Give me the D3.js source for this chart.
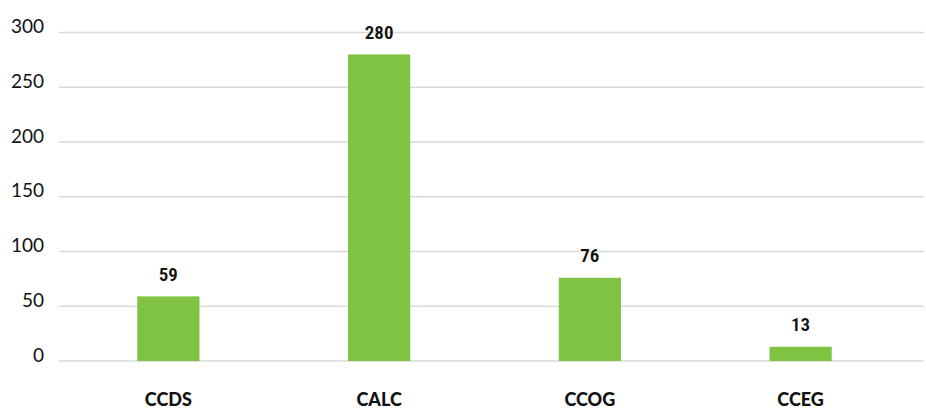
<!DOCTYPE html>
<html>
<head>
<meta charset="utf-8">
<script src="https://cdn.jsdelivr.net/npm/d3@7"></script>
<style>
  html, body { margin: 0; padding: 0; background: #fff; }
  svg { display: block; }
</style>
</head>
<body>
<svg id="chart" width="926" height="412"></svg>
<script>
// Programme counts
const categories = ["CCDS", "CALC", "CCOG", "CCEG"];
const values = [59, 280, 76, 13];
const yTicks = [0, 50, 100, 150, 200, 250, 300];

const svg = d3.select("#chart");

const x = d3.scaleBand()
  .domain(categories)
  .range([63, 906])
  .paddingInner(0.705)
  .paddingOuter(0.3525);

const y = d3.scaleLinear()
  .domain([0, 300])
  .range([361, 32.5]);

// horizontal gridlines
svg.append("g")
  .selectAll("line")
  .data(yTicks)
  .join("line")
  .attr("x1", 59)
  .attr("x2", 924)
  .attr("y1", d => y(d))
  .attr("y2", d => y(d))
  .attr("stroke", "#d9d9d9")
  .attr("stroke-width", 1.5);

// y-axis labels
svg.append("g")
  .selectAll("text")
  .data(yTicks)
  .join("text")
  .attr("x", 44)
  .attr("y", d => y(d) - 6)
  .attr("dy", "0.35em")
  .attr("text-anchor", "end")
  .attr("font-family", "Lato, 'Open Sans', sans-serif")
  .attr("font-size", 19)
  .attr("fill", "#111")
  .text(d => d);

// bars
svg.append("g")
  .selectAll("rect")
  .data(values)
  .join("rect")
  .attr("x", (d, i) => x(categories[i]))
  .attr("width", x.bandwidth())
  .attr("y", d => y(d))
  .attr("height", d => y(0) - y(d))
  .attr("fill", "#80c342");

// value labels
svg.append("g")
  .selectAll("text")
  .data(values)
  .join("text")
  .attr("x", (d, i) => x(categories[i]) + x.bandwidth() / 2)
  .attr("y", d => y(d) - 22)
  .attr("dy", "0.35em")
  .attr("text-anchor", "middle")
  .attr("font-family", "'Liberation Sans Narrow', 'Roboto Condensed', sans-serif")
  .attr("font-size", 19)
  .attr("font-weight", 600)
  .attr("fill", "#111")
  .text(d => d);

// category labels
svg.append("g")
  .selectAll("text")
  .data(categories)
  .join("text")
  .attr("x", d => x(d) + x.bandwidth() / 2)
  .attr("y", 400)
  .attr("dy", "0.35em")
  .attr("text-anchor", "middle")
  .attr("font-family", "Lato, 'Open Sans', sans-serif")
  .attr("font-weight", 900)
  .attr("font-size", 18)
  .attr("fill", "#111")
  .text(d => d);
</script>
</body>
</html>
